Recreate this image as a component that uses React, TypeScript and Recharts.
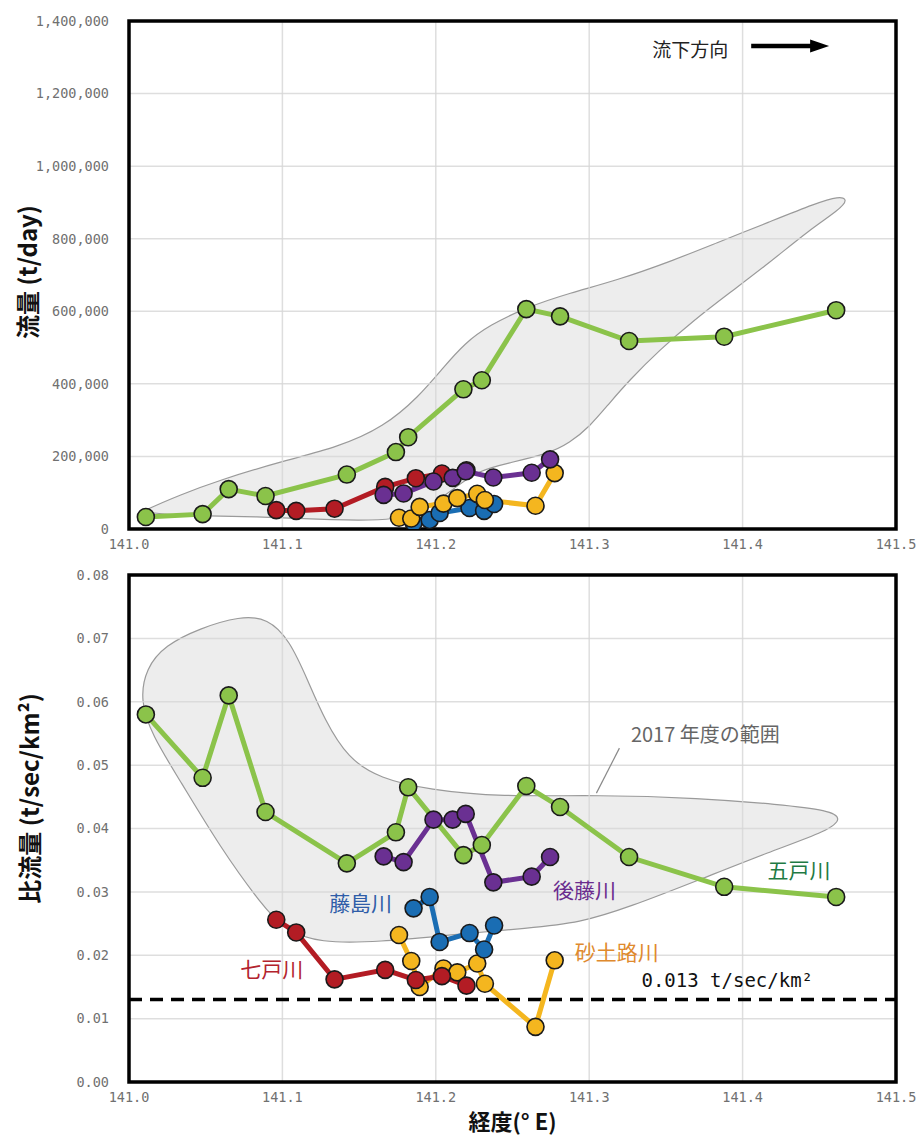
import React from 'react';
import {
    ComposedChart, Line, XAxis, YAxis, CartesianGrid,
    ReferenceArea, ReferenceLine, ReferenceDot, Curve
} from 'recharts';

// axis ticks
const X_TICKS = [141.0, 141.1, 141.2, 141.3, 141.4, 141.5];
const FLOW_TICKS = [0, 200000, 400000, 600000, 800000, 1000000, 1200000, 1400000];
const SPEC_TICKS = [0, 0.01, 0.02, 0.03, 0.04, 0.05, 0.06, 0.07, 0.08];

// 五戸川
const GONOHE_LON = [141.011, 141.048, 141.065, 141.089, 141.142, 141.174, 141.182, 141.218, 141.23, 141.259, 141.281, 141.326, 141.388, 141.461];
const GONOHE_FLOW = [33000, 41000, 110000, 91000, 150000, 212000, 253000, 385000, 410000, 606000, 586000, 518000, 530000, 603000];
const GONOHE_SPEC = [0.058, 0.048, 0.061, 0.0426, 0.0345, 0.0394, 0.0465, 0.0358, 0.0374, 0.0467, 0.0434, 0.0355, 0.0308, 0.0292];

// 七戸川
const SHICHINOHE_LON = [141.096, 141.109, 141.134, 141.167, 141.187, 141.204, 141.22];
const SHICHINOHE_FLOW = [52000, 50000, 56000, 116000, 140000, 153000, 162000];
const SHICHINOHE_SPEC = [0.0256, 0.0236, 0.0162, 0.0177, 0.0161, 0.0167, 0.0152];

// 後藤川
const GOTO_LON = [141.166, 141.179, 141.1985, 141.211, 141.2195, 141.2375, 141.2625, 141.2745];
const GOTO_FLOW = [94000, 98000, 131000, 141000, 159000, 142000, 155000, 192000];
const GOTO_SPEC = [0.0356, 0.0347, 0.0414, 0.0414, 0.0423, 0.0315, 0.0324, 0.0355];

// 藤島川
const FUJISHIMA_LON = [141.1855, 141.196, 141.2025, 141.222, 141.2315, 141.238];
const FUJISHIMA_FLOW = [17000, 25000, 44000, 58000, 50000, 69000];
const FUJISHIMA_SPEC = [0.0274, 0.0292, 0.0221, 0.0235, 0.0209, 0.0247];

// 砂土路川
const SADORO_LON = [141.176, 141.184, 141.1895, 141.205, 141.214, 141.227, 141.232, 141.265, 141.2775];
const SADORO_FLOW = [31000, 29000, 61000, 70000, 85000, 97000, 80000, 64000, 154000];
const SADORO_SPEC = [0.0232, 0.0191, 0.015, 0.0179, 0.0173, 0.0187, 0.0155, 0.0087, 0.0192];

// 2017年度の範囲 (outline, clockwise)
const ENV_TOP_LON = [141.0104, 141.0332, 141.0592, 141.0983, 141.1367, 141.166, 141.1888, 141.2051, 141.2188, 141.235, 141.2598, 141.2871, 141.3184, 141.3522, 141.3828, 141.4173, 141.4479, 141.4629, 141.4688, 141.4629, 141.4434, 141.4173, 141.3913, 141.3685, 141.3457, 141.3262, 141.3132, 141.3001, 141.2871, 141.2741, 141.248, 141.2285, 141.2122, 141.196, 141.1764, 141.1309, 141.0918, 141.0495, 141.0202, 141.0104];
const ENV_TOP_FLOW = [52000, 94000, 135000, 185000, 226000, 281000, 364000, 446000, 512000, 562000, 612000, 650000, 686000, 736000, 788000, 846000, 898000, 917000, 909000, 879000, 824000, 733000, 650000, 576000, 493000, 410000, 347000, 281000, 237000, 209000, 182000, 163000, 113000, 61000, 22000, 25000, 33000, 36000, 41000, 48000];
const ENV_BOT_LON = [141.0072, 141.0111, 141.0234, 141.0462, 141.0723, 141.0905, 141.1048, 141.1165, 141.1276, 141.1426, 141.1634, 141.196, 141.2415, 141.3066, 141.3717, 141.4238, 141.4564, 141.4648, 141.4564, 141.4173, 141.3717, 141.3262, 141.2936, 141.2611, 141.209, 141.1634, 141.1243, 141.1016, 141.0866, 141.0592, 141.0332, 141.015];
const ENV_BOT_SPEC = [0.06025, 0.0653, 0.0689, 0.0716, 0.0735, 0.0732, 0.0697, 0.0634, 0.0571, 0.0511, 0.0479, 0.0461, 0.045, 0.0453, 0.0448, 0.0438, 0.0429, 0.0416, 0.0397, 0.0363, 0.0319, 0.0276, 0.0251, 0.0243, 0.0232, 0.0221, 0.0219, 0.024, 0.0279, 0.0371, 0.0476, 0.0547];

const COLORS = {
    gonohe: '#8bc34a',
    shichinohe: '#b31c24',
    goto: '#6a3092',
    fujishima: '#1a6db3',
    sadoro: '#f4b61f',
    grid: '#d6d6d6',
    tick: '#707070',
    envFill: '#ededed',
    envStroke: '#9a9a9a',
};

const rows = (lon: number[], vals: number[]) => lon.map((x, i) => ({ lon: x, v: vals[i] }));

const RIVERS = [
    { key: 'gonohe', color: COLORS.gonohe, lon: GONOHE_LON, flow: GONOHE_FLOW, spec: GONOHE_SPEC },
    { key: 'fujishima', color: COLORS.fujishima, lon: FUJISHIMA_LON, flow: FUJISHIMA_FLOW, spec: FUJISHIMA_SPEC },
    { key: 'sadoro', color: COLORS.sadoro, lon: SADORO_LON, flow: SADORO_FLOW, spec: SADORO_SPEC },
    { key: 'shichinohe', color: COLORS.shichinohe, lon: SHICHINOHE_LON, flow: SHICHINOHE_FLOW, spec: SHICHINOHE_SPEC },
    { key: 'goto', color: COLORS.goto, lon: GOTO_LON, flow: GOTO_FLOW, spec: GOTO_SPEC },
];
// lower chart draws green last
const RIVERS_LOWER = [RIVERS[2], RIVERS[1], RIVERS[3], RIVERS[4], RIVERS[0]];

const MONO = '"DejaVu Sans Mono", monospace';
const JP = '"Noto Sans CJK JP", "Noto Sans", sans-serif';

// draws the whole closed outline once, from the line's own projected points
const Envelope = (props: any) => {
    if (props.index !== 0 || !props.points) return <g key={`env-${props.index}`} />;
    return (
        <Curve
            key="env"
            points={props.points}
            type="basisClosed"
            fill={COLORS.envFill}
            stroke={COLORS.envStroke}
            strokeWidth={1.2}
        />
    );
};

const textShape = (text: string, color: string, size: number, font = JP, weight = 400) => (p: any) => (
    <text x={p.cx} y={p.cy} textAnchor="middle" dominantBaseline="central"
        fill={color} fontSize={size} fontFamily={font} fontWeight={weight}>{text}</text>
);

const arrowHead = (p: any) => (
    <polygon points={`${p.cx - 19},${p.cy - 6.5} ${p.cx},${p.cy} ${p.cx - 19},${p.cy + 6.5}`} fill="#000" />
);

const yTitle = (text: string, x: number, dy: number) => (props: any) => {
    const vb = props.viewBox;
    const cy = vb.y + vb.height / 2 + dy;
    return (
        <text x={x} y={cy} transform={`rotate(-90, ${x}, ${cy})`} textAnchor="middle" dominantBaseline="central"
            fontSize={24} fontWeight={700} fontFamily={JP} fill="#111">{text}</text>
    );
};

const xTitle = (text: string, y: number) => (props: any) => {
    const vb = props.viewBox;
    return (
        <text x={vb.x + vb.width / 2} y={y} textAnchor="middle" dominantBaseline="central"
            fontSize={22} fontWeight={700} fontFamily={JP} fill="#111">{text}</text>
    );
};

const riverLine = (r: any, field: 'flow' | 'spec') => (
    <Line
        key={`${r.key}-${field}`}
        data={rows(r.lon, r[field])}
        dataKey="v"
        type="linear"
        stroke={r.color}
        strokeWidth={5}
        dot={{ r: 8.5, fill: r.color, stroke: '#1a1a1a', strokeWidth: 1.6 }}
        activeDot={false}
        isAnimationActive={false}
    />
);

const tickStyle = { fill: COLORS.tick, fontSize: 13.5, fontFamily: MONO };
const noTick = false;

const layer: React.CSSProperties = { position: 'absolute', left: 0, top: 0 };

const TOP_H = 560;
const BOT_H = 579;
const TOP_MARGIN = { top: 21, right: 23, bottom: 0, left: 0 };
const BOT_MARGIN = { top: 15, right: 23, bottom: 0, left: 0 };

const App: React.FC = () => {
    return (
        <div style={{ position: 'absolute', left: 0, top: 0, width: 919, height: 1139, background: '#fff' }}>
            {/* 流量 */}
            <div style={{ position: 'relative', width: 919, height: TOP_H }}>
                {/* envelope underneath */}
                <div style={layer}>
                    <ComposedChart width={919} height={TOP_H} margin={TOP_MARGIN}>
                        <XAxis type="number" dataKey="lon" domain={[141, 141.5]} ticks={X_TICKS} height={31}
                            allowDataOverflow tick={noTick} tickLine={false} axisLine={false} />
                        <YAxis type="number" domain={[0, 1400000]} ticks={FLOW_TICKS} width={129} allowDataOverflow
                            tick={noTick} tickLine={false} axisLine={false} />
                        <Line data={rows(ENV_TOP_LON, ENV_TOP_FLOW)} dataKey="v" stroke="none" dot={Envelope}
                            activeDot={false} isAnimationActive={false} />
                    </ComposedChart>
                </div>
                <div style={layer}>
                    <ComposedChart width={919} height={TOP_H} margin={TOP_MARGIN}>
                        <CartesianGrid stroke={COLORS.grid} strokeWidth={1.5} strokeOpacity={0.8} />
                        <XAxis type="number" dataKey="lon" domain={[141, 141.5]} ticks={X_TICKS} height={31}
                            allowDataOverflow tickFormatter={(v) => v.toFixed(1)} tick={tickStyle}
                            tickLine={false} axisLine={false} tickSize={0} tickMargin={10} />
                        <YAxis type="number" domain={[0, 1400000]} ticks={FLOW_TICKS} width={129} allowDataOverflow
                            tickFormatter={(v) => v.toLocaleString('en-US')} tick={tickStyle}
                            tickLine={false} axisLine={false} tickSize={0} tickMargin={20}
                            label={{ content: yTitle('流量 (t/day)', 26, -3) }} />
                        {RIVERS.map((r) => riverLine(r, 'flow'))}
                        <ReferenceDot x={141.3659} y={1325000} r={0} shape={textShape('流下方向', '#222', 19)} />
                        <ReferenceLine segment={[{ x: 141.4056, y: 1331000 }, { x: 141.4470, y: 1331000 }]}
                            stroke="#000" strokeWidth={4.5} />
                        <ReferenceDot x={141.4564} y={1331000} r={0} shape={arrowHead} />
                        <ReferenceArea x1={141} x2={141.5} y1={0} y2={1400000} fill="none" stroke="#000" strokeWidth={3.5} ifOverflow="visible" />
                    </ComposedChart>
                </div>
            </div>

            {/* 比流量 */}
            <div style={{ position: 'relative', width: 919, height: BOT_H }}>
                <div style={layer}>
                    <ComposedChart width={919} height={BOT_H} margin={BOT_MARGIN}>
                        <XAxis type="number" dataKey="lon" domain={[141, 141.5]} ticks={X_TICKS} height={57}
                            allowDataOverflow tick={noTick} tickLine={false} axisLine={false} />
                        <YAxis type="number" domain={[0, 0.08]} ticks={SPEC_TICKS} width={129} allowDataOverflow
                            tick={noTick} tickLine={false} axisLine={false} />
                        <Line data={rows(ENV_BOT_LON, ENV_BOT_SPEC)} dataKey="v" stroke="none" dot={Envelope}
                            activeDot={false} isAnimationActive={false} />
                    </ComposedChart>
                </div>
                <div style={layer}>
                    <ComposedChart width={919} height={BOT_H} margin={BOT_MARGIN}>
                        <CartesianGrid stroke={COLORS.grid} strokeWidth={1.5} strokeOpacity={0.8} />
                        <XAxis type="number" dataKey="lon" domain={[141, 141.5]} ticks={X_TICKS} height={57}
                            allowDataOverflow tickFormatter={(v) => v.toFixed(1)} tick={tickStyle}
                            tickLine={false} axisLine={false} tickSize={0} tickMargin={10}
                            label={{ content: xTitle('経度(° E)', 560) }} />
                        <YAxis type="number" domain={[0, 0.08]} ticks={SPEC_TICKS} width={129} allowDataOverflow
                            tickFormatter={(v) => v.toFixed(2)} tick={tickStyle}
                            tickLine={false} axisLine={false} tickSize={0} tickMargin={20}
                            label={{ content: yTitle('比流量 (t/sec/km²)', 28, -30) }} />
                        <ReferenceLine y={0.013} stroke="#000" strokeWidth={3.5} strokeDasharray="13 8" />
                        <ReferenceLine segment={[{ x: 141.3197, y: 0.05268 }, { x: 141.3047, y: 0.04558 }]}
                            stroke="#8a8a8a" strokeWidth={1.2} />
                        {RIVERS_LOWER.map((r) => riverLine(r, 'spec'))}
                        <ReferenceDot x={141.3757} y={0.05505} r={0} shape={textShape('2017 年度の範囲', '#666', 20)} />
                        <ReferenceDot x={141.4368} y={0.0336} r={0} shape={textShape('五戸川', '#1f7a44', 21)} />
                        <ReferenceDot x={141.2969} y={0.03044} r={0} shape={textShape('後藤川', '#6a2c8e', 21)} />
                        <ReferenceDot x={141.151} y={0.0284} r={0} shape={textShape('藤島川', '#2f5da8', 21)} />
                        <ReferenceDot x={141.318} y={0.02066} r={0} shape={textShape('砂土路川', '#df8a2e', 21)} />
                        <ReferenceDot x={141.093} y={0.01798} r={0} shape={textShape('七戸川', '#b3232d', 21)} />
                        <ReferenceDot x={141.39} y={0.01609} r={0} shape={textShape('0.013 t/sec/km²', '#111', 19, MONO)} />
                        <ReferenceArea x1={141} x2={141.5} y1={0} y2={0.08} fill="none" stroke="#000" strokeWidth={3.5} ifOverflow="visible" />
                    </ComposedChart>
                </div>
            </div>
        </div>
    );
};

export default App;
